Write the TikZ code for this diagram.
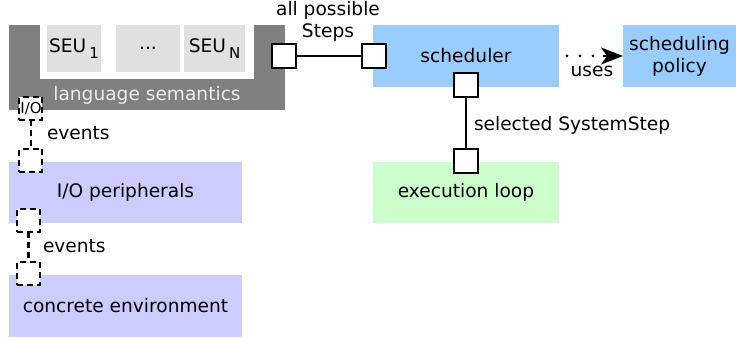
\documentclass[tikz,border=0pt]{standalone}
\usepackage{fontspec}
\setmainfont{DejaVu Sans}
\usetikzlibrary{arrows.meta}
\definecolor{semgray}{HTML}{808080}
\definecolor{seugray}{HTML}{E0E0E0}
\definecolor{schedblue}{HTML}{99CCFF}
\definecolor{lavender}{HTML}{CCCCFF}
\definecolor{mint}{HTML}{CCFFCC}
\begin{document}
\begin{tikzpicture}[x=0.5pt,y=-0.5pt,
  every node/.style={font=\fontsize{9.3}{11}\selectfont, inner sep=0pt, outer sep=0pt},
  box/.style={draw=none, minimum width=#1, minimum height=31pt},
  seubox/.style={fill=seugray, minimum width=#1, minimum height=23.5pt},
  port/.style={draw=black, line width=1pt, fill=white, minimum size=12pt},
  dport/.style={draw=black, line width=1pt, dash pattern=on 3pt off 2pt, fill=white, minimum size=11.5pt},
  conn/.style={line width=1pt},
  dconn/.style={line width=1pt, dash pattern=on 3pt off 2pt},
  dotline/.style={line width=1.5pt, line cap=round, dash pattern=on 0pt off 6.5pt},
  tipline/.style={line width=1pt, -{Stealth[length=11pt,width=8.5pt,inset=3pt]}}
]
\useasboundingbox (0,0) rectangle (736,340);
% language semantics block
\node[fill=semgray, minimum width=138pt, minimum height=42.5pt] (lang) at (147,67.5) {};
\node[fill=white, minimum width=107pt, minimum height=27pt] (inner) at (147,52) {};
\node[seubox=27pt] (seu1) at (74,48.5) {SEU\,\raisebox{-0.55ex}{\fontsize{7.5}{8}\selectfont 1}};
\node[seubox=32pt] (seudots) at (148,48.5) {...};
\node[seubox=30.5pt] (seuN) at (214.5,48.5) {SEU\,\raisebox{-0.55ex}{\fontsize{7.5}{8}\selectfont N}};
\node[text=white!92!black] (langlabel) at (147,95) {language semantics};
% scheduler side
\node[box=93pt, fill=schedblue] (sched) at (466,56) {scheduler};
\node[box=56.5pt, fill=schedblue, align=center] (policy) at (679.5,56) {scheduling\\policy};
\node[box=93pt, minimum height=30.5pt, fill=mint] (exec) at (466,192.5) {execution loop};
% environment side
\node[box=116.5pt, minimum height=30.5pt, fill=lavender] (iop) at (125.5,192.5) {I/O peripherals};
\node[box=116.5pt, fill=lavender] (env) at (125.5,306) {concrete environment};
% ports
\node[port] (p1) at (284,56) {};
\node[port] (p2) at (374.5,56) {};
\node[port] (p3) at (466,85) {};
\node[port] (p4) at (466,161) {};
\node[dport, font=\fontsize{7.5}{8}\selectfont] (io) at (31,108.5) {I/O};
\node[dport] (d2) at (31,161) {};
\node[dport] (d3) at (28.5,221) {};
\node[dport] (d4) at (28.5,274) {};
% connectors
\draw[conn] (p1) -- (p2);
\draw[conn] (p3) -- (p4);
\draw[dconn] (io) -- (d2);
\draw[dconn] (d3) -- (d4);
\coordinate (ustart) at (567,56);
\coordinate (tipstart) at (603,56);
\draw[dotline] (ustart) -- (tipstart);
\draw[tipline] (tipstart) -- (policy.west);
% labels
\node[align=center] (allsteps) at (328,21) {all possible\\Steps};
\node (uses) at (592,71) {uses};
\node[anchor=west] (selstep) at (474,125) {selected SystemStep};
\node[anchor=west] (ev1) at (47,133) {events};
\node[anchor=west] (ev2) at (43,246) {events};
\end{tikzpicture}
\end{document}
